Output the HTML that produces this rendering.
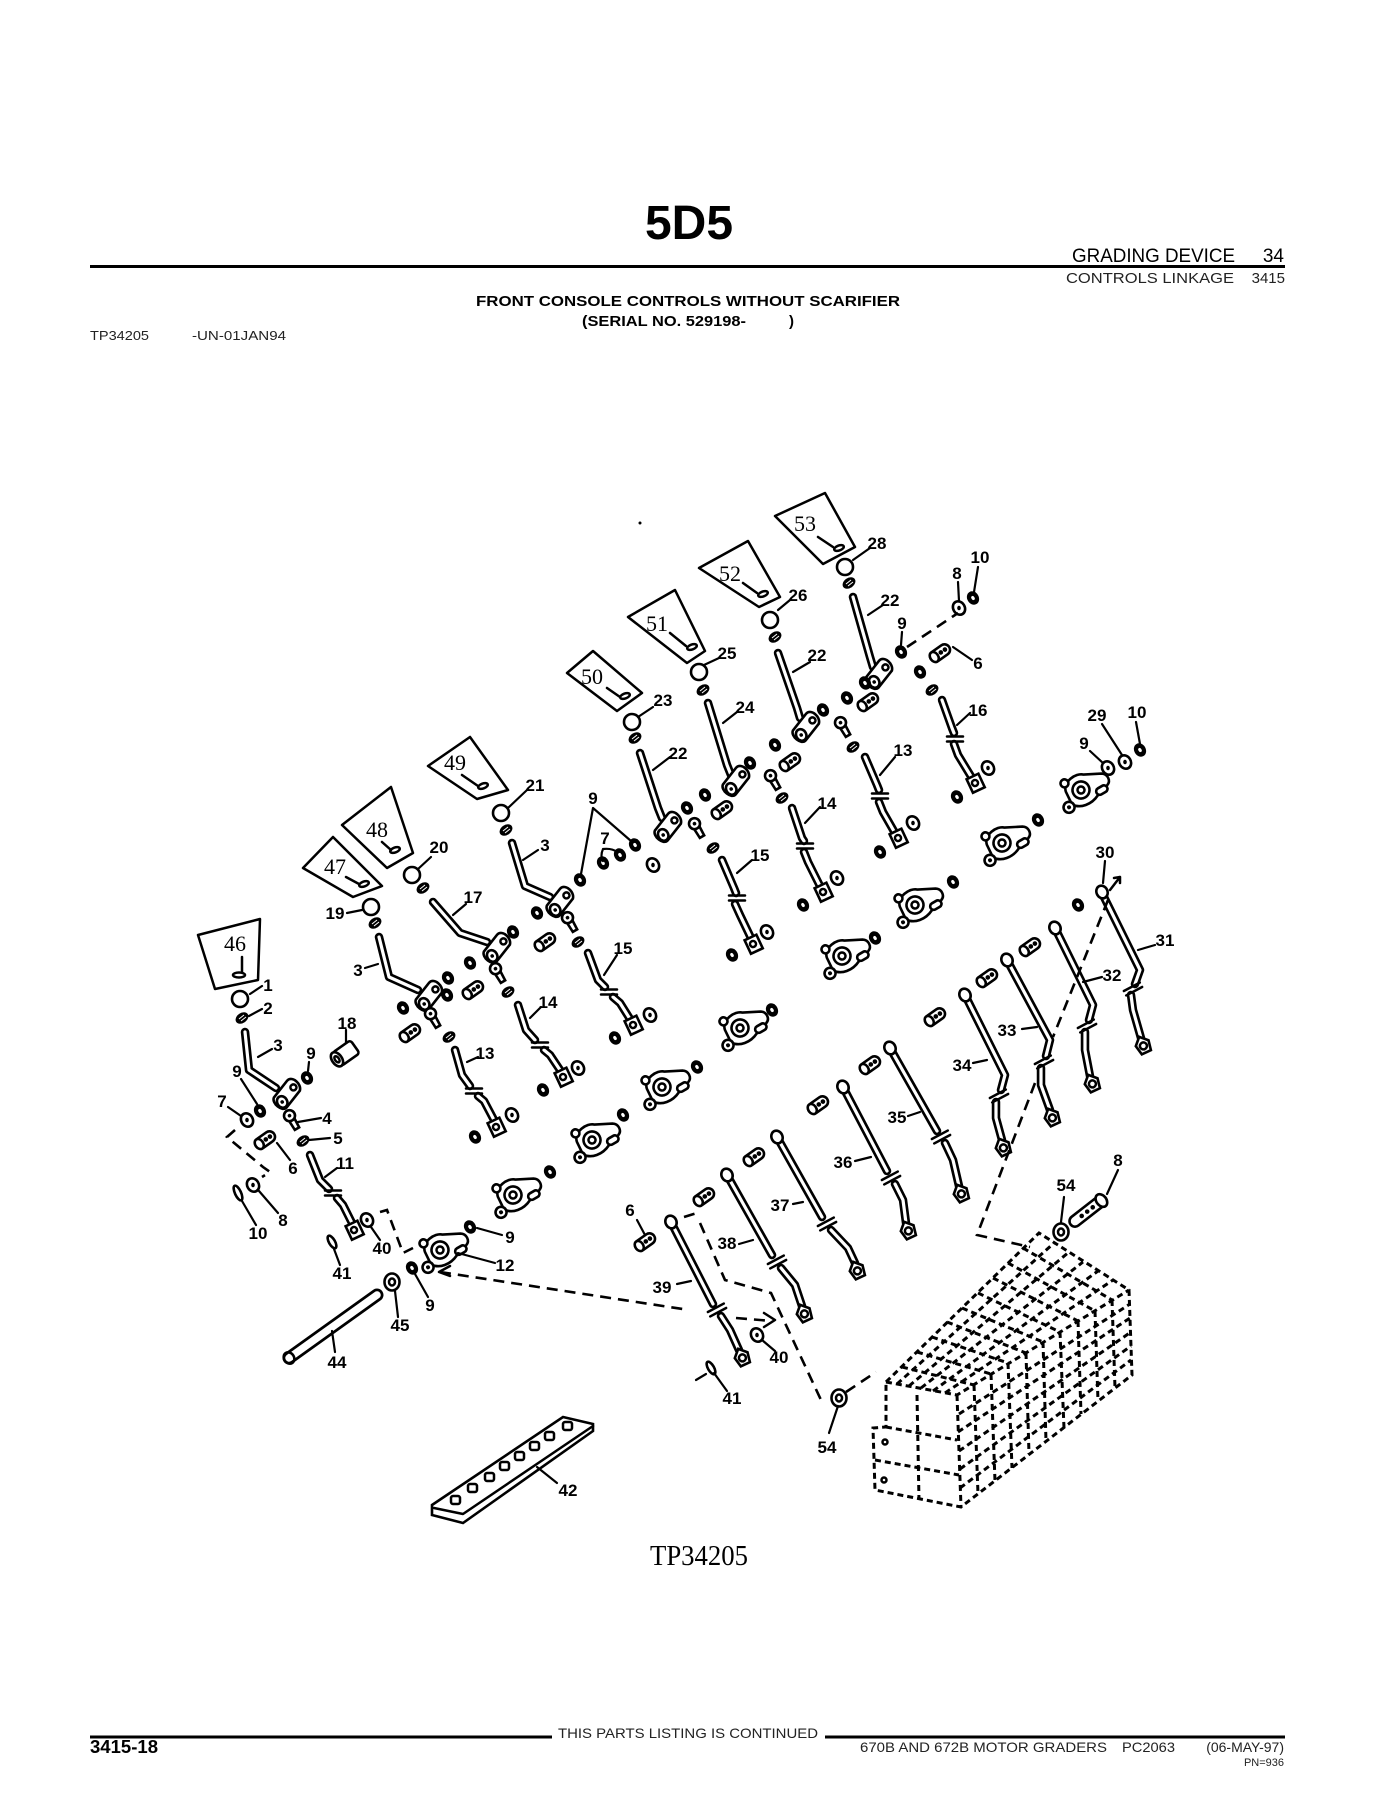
<!DOCTYPE html>
<html><head><meta charset="utf-8"><style>
html,body{margin:0;padding:0;background:#fff}
svg{display:block}
</style></head><body>
<svg width="1394" height="1804" viewBox="0 0 1394 1804" xmlns="http://www.w3.org/2000/svg">
<style>
.to{fill:none;stroke:#000;stroke-width:8.5;stroke-linecap:round;stroke-linejoin:round}
.ti{fill:none;stroke:#fff;stroke-width:3.2;stroke-linecap:round;stroke-linejoin:round}
.s{fill:none;stroke:#000;stroke-width:2.5;stroke-linecap:round;stroke-linejoin:round}
.l{fill:none;stroke:#000;stroke-width:2.2;stroke-linecap:round}
.d{fill:none;stroke:#000;stroke-width:2.6;stroke-dasharray:11 7}
.db{fill:none;stroke:#000;stroke-width:3;stroke-dasharray:6 4}
.w{fill:#fff;stroke:#000;stroke-width:2.6}
.hd{font-family:"Liberation Sans",Arial,sans-serif}
</style>
<defs>
<g id="n"><ellipse rx="5.8" ry="7" transform="rotate(-30)" fill="#000"/><ellipse rx="1.6" ry="2.2" transform="rotate(-30)" fill="#fff"/></g>
<g id="w"><ellipse rx="5.8" ry="7" transform="rotate(-30)" class="w" stroke-width="3.2"/><ellipse rx="1.8" ry="2.3" fill="#000"/></g>
<g id="sp"><ellipse rx="7" ry="5" transform="rotate(-35)" fill="#000"/><path d="M-3,1 L2,-3 M-1,3 L4,-1" stroke="#fff" stroke-width="1"/></g>
<g id="b"><g transform="rotate(-35)"><rect x="-11" y="-5.5" width="22" height="11" rx="5.5" class="w"/><ellipse cx="-7" rx="4" ry="5.5" class="w"/><circle cx="1" r="2.3"/><circle cx="6" r="2.3"/></g></g>
<g id="lk"><g transform="rotate(60)"><path d="M-2,-3 L10,-2.5 L10,2.5 L-2,3" class="w"/><circle cx="-5" r="5.5" class="w"/><circle cx="-5" r="1.8"/></g></g>
<g id="k"><circle r="8" class="w"/></g>
<g id="h"><g transform="rotate(-30)"><path d="M-14,-4 L6,-12 C13,-14 17,-2 12,3 L-8,11 C-14,13 -19,0 -14,-4Z" class="w"/><ellipse cx="-9" cy="4" rx="5" ry="6" class="w"/><circle cx="-9" cy="4" r="1.8"/><circle cx="8" cy="-3" r="3" class="s" stroke-width="2"/></g></g>
<g id="f"><g transform="rotate(-25)"><rect x="-6" y="-7" width="13" height="15" class="w"/><circle r="3" class="s" stroke-width="2"/></g></g>
<g id="tf"><g transform="rotate(-25)"><path d="M0,-9 L7,-2 L5,8 L-5,8 L-7,-2Z" class="w"/><circle cy="1" r="3.5" class="s" stroke-width="2"/></g></g>
<g id="te"><ellipse rx="5.5" ry="6.5" transform="rotate(-25)" class="w"/></g>
<g id="bkS"><path d="M-8,-2.5h16M-8,2.5h16" class="s"/></g>
<g id="bkL"><g transform="rotate(-28)"><path d="M-9,-2.5h18M-9,2.5h18" class="s"/></g></g>
<g id="r"><g transform="rotate(-30)">
<path d="M-14,-6 C-12,-16 4,-18 10,-12 L26,-4 C31,-1 31,7 25,9 L12,13 C2,18 -10,16 -15,8 Z" class="w"/>
<circle r="8.5" class="w"/><circle r="3.5" class="s" stroke-width="2"/>
<circle cx="-19" cy="9" r="5.5" class="w"/><circle cx="-19" cy="9" r="2"/>
<circle cx="-11" cy="-14" r="4" class="w"/>
<rect x="12" y="7" width="12" height="7" rx="3.5" class="w"/>
</g></g>
</defs>

<!-- HEADER -->
<text x="689" y="239" class="hd" font-size="48" font-weight="bold" text-anchor="middle">5D5</text>
<text x="1072" y="262" class="hd" font-size="19" textLength="163" lengthAdjust="spacingAndGlyphs">GRADING DEVICE</text>
<text x="1284" y="262" class="hd" font-size="19" text-anchor="end">34</text>
<line x1="90" y1="266.5" x2="1285" y2="266.5" stroke="#000" stroke-width="3"/>
<text x="1066" y="283" class="hd" font-size="15" fill="#222" textLength="168" lengthAdjust="spacingAndGlyphs">CONTROLS LINKAGE</text>
<text x="1285" y="283" class="hd" font-size="15" fill="#222" text-anchor="end">3415</text>
<text x="476" y="306" class="hd" font-size="15" font-weight="bold" textLength="424" lengthAdjust="spacingAndGlyphs">FRONT CONSOLE CONTROLS WITHOUT SCARIFIER</text>
<text x="582" y="326" class="hd" font-size="15" font-weight="bold" textLength="164" lengthAdjust="spacingAndGlyphs">(SERIAL NO. 529198-</text>
<text x="789" y="326" class="hd" font-size="15" font-weight="bold">)</text>
<text x="90" y="340" class="hd" font-size="13" fill="#222" textLength="59" lengthAdjust="spacingAndGlyphs">TP34205</text>
<text x="192" y="340" class="hd" font-size="13" fill="#222" textLength="94" lengthAdjust="spacingAndGlyphs">-UN-01JAN94</text>

<!-- FOOTER -->
<line x1="90" y1="1737" x2="552" y2="1737" stroke="#000" stroke-width="3"/>
<line x1="825" y1="1737" x2="1285" y2="1737" stroke="#000" stroke-width="3"/>
<text x="558" y="1738" class="hd" font-size="14" fill="#222" textLength="260" lengthAdjust="spacingAndGlyphs">THIS PARTS LISTING IS CONTINUED</text>
<text x="90" y="1753" class="hd" font-size="18" font-weight="bold" textLength="68" lengthAdjust="spacingAndGlyphs">3415-18</text>
<text x="860" y="1752" class="hd" font-size="14" fill="#222" textLength="247" lengthAdjust="spacingAndGlyphs">670B AND 672B MOTOR GRADERS</text>
<text x="1122" y="1752" class="hd" font-size="14" fill="#222" textLength="53" lengthAdjust="spacingAndGlyphs">PC2063</text>
<text x="1284" y="1752" class="hd" font-size="14" fill="#222" text-anchor="end">(06-MAY-97)</text>
<text x="1284" y="1766" class="hd" font-size="11" fill="#222" text-anchor="end">PN=936</text>

<!-- TP number under diagram -->
<text x="650" y="1565" font-family="Liberation Serif,serif" font-size="28" textLength="98" lengthAdjust="spacingAndGlyphs">TP34205</text>

<!-- TAGS -->
<g class="s" stroke-width="2.3">
<polygon points="198,935 260,919 258,980 215,989"/>
<polygon points="303,868 333,837 382,886 353,897"/>
<polygon points="342,825 391,787 413,853 387,868"/>
<polygon points="428,766 470,737 508,790 477,799"/>
<polygon points="567,673 593,651 642,693 617,711"/>
<polygon points="628,617 675,590 705,651 687,663"/>
<polygon points="699,568 748,541 780,597 759,607"/>
<polygon points="775,516 825,493 855,547 823,564"/>
</g>
<g class="s" stroke-width="2.5">
<path d="M242,957 L242,972"/><ellipse cx="239" cy="975" rx="6" ry="2.5"/>
<path d="M346,877 L359,884"/><ellipse cx="364" cy="884" rx="5" ry="2.5" transform="rotate(-20 364 884)"/>
<path d="M382,842 L391,850"/><ellipse cx="395" cy="850" rx="5" ry="2.5" transform="rotate(-20 395 850)"/>
<path d="M462,775 L478,786"/><ellipse cx="483" cy="786" rx="5" ry="2.5" transform="rotate(-20 483 786)"/>
<path d="M607,688 L620,697"/><ellipse cx="625" cy="696" rx="5" ry="2.5" transform="rotate(-20 625 696)"/>
<path d="M670,633 L686,646"/><ellipse cx="692" cy="647" rx="5" ry="2.5" transform="rotate(-20 692 647)"/>
<path d="M743,583 L757,593"/><ellipse cx="763" cy="594" rx="5" ry="2.5" transform="rotate(-20 763 594)"/>
<path d="M818,537 L833,547"/><ellipse cx="839" cy="548" rx="5" ry="2.5" transform="rotate(-20 839 548)"/>
</g>
<g font-family="Liberation Serif,serif" font-size="22" text-anchor="middle">
<text x="235" y="951">46</text><text x="335" y="874">47</text><text x="377" y="837">48</text><text x="455" y="770">49</text>
<text x="592" y="684">50</text><text x="657" y="631">51</text><text x="730" y="581">52</text><text x="805" y="531">53</text>
</g>
<circle cx="640" cy="523" r="1.5"/>

<!-- KNOBS & SPRINGS -->
<use href="#k" x="240" y="999"/><use href="#k" x="371" y="907"/><use href="#k" x="412" y="875"/><use href="#k" x="501" y="813"/>
<use href="#k" x="632" y="722"/><use href="#k" x="699" y="672"/><use href="#k" x="770" y="620"/><use href="#k" x="845" y="567"/>
<use href="#sp" x="242" y="1018"/><use href="#sp" x="375" y="923"/><use href="#sp" x="423" y="888"/><use href="#sp" x="506" y="830"/>
<use href="#sp" x="635" y="738"/><use href="#sp" x="703" y="690"/><use href="#sp" x="775" y="637"/><use href="#sp" x="849" y="583"/>

<!-- UPPER LEVER RODS -->
<g>
<path class="to" d="M245,1032 L249,1070 L276,1088"/><path class="ti" d="M245,1032 L249,1070 L276,1088"/>
<path class="to" d="M379,937 L389,977 L418,990"/><path class="ti" d="M379,937 L389,977 L418,990"/>
<path class="to" d="M433,902 L460,933 L487,942"/><path class="ti" d="M433,902 L460,933 L487,942"/>
<path class="to" d="M512,843 L525,886 L550,897"/><path class="ti" d="M512,843 L525,886 L550,897"/>
<path class="to" d="M640,753 L658,808 L662,818"/><path class="ti" d="M640,753 L658,808 L662,818"/>
<path class="to" d="M708,703 L727,765 L731,775"/><path class="ti" d="M708,703 L727,765 L731,775"/>
<path class="to" d="M778,653 L797,708 L800,718"/><path class="ti" d="M778,653 L797,708 L800,718"/>
<path class="to" d="M853,597 L870,657 L873,667"/><path class="ti" d="M853,597 L870,657 L873,667"/>
</g>
<use href="#h" x="288" y="1094"/><use href="#h" x="430" y="996"/><use href="#h" x="498" y="948"/><use href="#h" x="561" y="902"/>
<use href="#h" x="669" y="827"/><use href="#h" x="737" y="781"/><use href="#h" x="807" y="727"/><use href="#h" x="880" y="674"/>

<!-- SHORT LOWER RODS -->
<g>
<path class="to" d="M310,1155 L320,1180 L329,1189"/><path class="ti" d="M310,1155 L320,1180 L329,1189"/>
<path class="to" d="M337,1198 L343,1205 L353,1225"/><path class="ti" d="M337,1198 L343,1205 L353,1225"/>
<path class="to" d="M455,1050 L462,1075 L470,1086"/><path class="ti" d="M455,1050 L462,1075 L470,1086"/>
<path class="to" d="M478,1096 L484,1101 L494,1120"/><path class="ti" d="M478,1096 L484,1101 L494,1120"/>
<path class="to" d="M518,1005 L526,1030 L535,1040"/><path class="ti" d="M518,1005 L526,1030 L535,1040"/>
<path class="to" d="M544,1050 L550,1055 L560,1070"/><path class="ti" d="M544,1050 L550,1055 L560,1070"/>
<path class="to" d="M588,953 L598,980 L605,987"/><path class="ti" d="M588,953 L598,980 L605,987"/>
<path class="to" d="M613,997 L620,1003 L630,1019"/><path class="ti" d="M613,997 L620,1003 L630,1019"/>
<path class="to" d="M722,860 L734,888 L736,893"/><path class="ti" d="M722,860 L734,888 L736,893"/>
<path class="to" d="M735,904 L740,915 L751,938"/><path class="ti" d="M735,904 L740,915 L751,938"/>
<path class="to" d="M792,808 L802,838 L804,841"/><path class="ti" d="M792,808 L802,838 L804,841"/>
<path class="to" d="M804,852 L808,862 L820,886"/><path class="ti" d="M804,852 L808,862 L820,886"/>
<path class="to" d="M865,757 L877,785 L879,790"/><path class="ti" d="M865,757 L877,785 L879,790"/>
<path class="to" d="M879,802 L883,812 L895,833"/><path class="ti" d="M879,802 L883,812 L895,833"/>
<path class="to" d="M942,700 L952,728 L954,733"/><path class="ti" d="M942,700 L952,728 L954,733"/>
<path class="to" d="M954,744 L958,755 L972,778"/><path class="ti" d="M954,744 L958,755 L972,778"/>
</g>
<use href="#bkS" x="333" y="1193"/><use href="#bkS" x="474" y="1091"/><use href="#bkS" x="540" y="1045"/><use href="#bkS" x="609" y="992"/>
<use href="#bkS" x="737" y="898"/><use href="#bkS" x="805" y="846"/><use href="#bkS" x="880" y="796"/><use href="#bkS" x="955" y="739"/>
<use href="#f" x="354" y="1230"/><use href="#f" x="496" y="1127"/><use href="#f" x="563" y="1077"/><use href="#f" x="633" y="1025"/>
<use href="#f" x="753" y="944"/><use href="#f" x="823" y="892"/><use href="#f" x="898" y="838"/><use href="#f" x="975" y="783"/>

<!-- LONG RODS 31-39 -->
<g>
<path class="to" d="M1102,893 L1140,970 L1135,984"/><path class="ti" d="M1102,893 L1140,970 L1135,984"/>
<path class="to" d="M1131,995 L1133,1010 L1141,1038"/><path class="ti" d="M1131,995 L1133,1010 L1141,1038"/>
<path class="to" d="M1055,928 L1093,1005 L1089,1020"/><path class="ti" d="M1055,928 L1093,1005 L1089,1020"/>
<path class="to" d="M1085,1032 L1085,1050 L1090,1076"/><path class="ti" d="M1085,1032 L1085,1050 L1090,1076"/>
<path class="to" d="M1007,960 L1050,1040 L1046,1056"/><path class="ti" d="M1007,960 L1050,1040 L1046,1056"/>
<path class="to" d="M1041,1068 L1041,1085 L1050,1110"/><path class="ti" d="M1041,1068 L1041,1085 L1050,1110"/>
<path class="to" d="M965,995 L1005,1075 L1001,1090"/><path class="ti" d="M965,995 L1005,1075 L1001,1090"/>
<path class="to" d="M996,1102 L996,1118 L1002,1140"/><path class="ti" d="M996,1102 L996,1118 L1002,1140"/>
<path class="to" d="M890,1048 L937,1131"/><path class="ti" d="M890,1048 L937,1131"/>
<path class="to" d="M945,1143 L953,1160 L959,1186"/><path class="ti" d="M945,1143 L953,1160 L959,1186"/>
<path class="to" d="M843,1087 L887,1171"/><path class="ti" d="M843,1087 L887,1171"/>
<path class="to" d="M895,1184 L903,1200 L906,1223"/><path class="ti" d="M895,1184 L903,1200 L906,1223"/>
<path class="to" d="M777,1137 L822,1217"/><path class="ti" d="M777,1137 L822,1217"/>
<path class="to" d="M831,1230 L848,1248 L855,1263"/><path class="ti" d="M831,1230 L848,1248 L855,1263"/>
<path class="to" d="M727,1175 L772,1255"/><path class="ti" d="M727,1175 L772,1255"/>
<path class="to" d="M781,1268 L795,1285 L802,1306"/><path class="ti" d="M781,1268 L795,1285 L802,1306"/>
<path class="to" d="M671,1222 L713,1304"/><path class="ti" d="M671,1222 L713,1304"/>
<path class="to" d="M721,1316 L730,1330 L739,1350"/><path class="ti" d="M721,1316 L730,1330 L739,1350"/>
</g>
<use href="#bkL" x="1133" y="989"/><use href="#bkL" x="1087" y="1026"/><use href="#bkL" x="1044" y="1062"/><use href="#bkL" x="999" y="1096"/>
<use href="#bkL" x="941" y="1137"/><use href="#bkL" x="891" y="1178"/><use href="#bkL" x="827" y="1224"/><use href="#bkL" x="777" y="1262"/><use href="#bkL" x="717" y="1310"/>
<use href="#tf" x="1143" y="1045"/><use href="#tf" x="1092" y="1083"/><use href="#tf" x="1052" y="1117"/><use href="#tf" x="1003" y="1147"/>
<use href="#tf" x="961" y="1193"/><use href="#tf" x="908" y="1230"/><use href="#tf" x="857" y="1270"/><use href="#tf" x="804" y="1313"/><use href="#tf" x="742" y="1357"/>
<use href="#te" x="1102" y="892"/><use href="#te" x="1055" y="928"/><use href="#te" x="1007" y="960"/><use href="#te" x="965" y="995"/>
<use href="#te" x="890" y="1048"/><use href="#te" x="843" y="1087"/><use href="#te" x="777" y="1137"/><use href="#te" x="727" y="1175"/><use href="#te" x="671" y="1222"/>

<!-- BOLTS -->
<use href="#b" x="1030" y="947"/><use href="#b" x="987" y="978"/><use href="#b" x="935" y="1017"/><use href="#b" x="870" y="1065"/>
<use href="#b" x="818" y="1105"/><use href="#b" x="754" y="1157"/><use href="#b" x="704" y="1197"/><use href="#b" x="645" y="1242"/>
<use href="#b" x="410" y="1033"/><use href="#b" x="473" y="990"/><use href="#b" x="545" y="942"/>
<use href="#b" x="722" y="810"/><use href="#b" x="790" y="762"/><use href="#b" x="868" y="702"/><use href="#b" x="940" y="653"/>
<use href="#b" x="265" y="1140"/>

<!-- ROCKERS -->
<use href="#r" x="1081" y="790"/><use href="#r" x="1002" y="843"/><use href="#r" x="915" y="905"/><use href="#r" x="842" y="956"/>
<use href="#r" x="740" y="1028"/><use href="#r" x="662" y="1087"/><use href="#r" x="592" y="1140"/><use href="#r" x="513" y="1195"/><use href="#r" x="440" y="1250"/>

<!-- SMALL PARTS -->
<g>
<use href="#n" x="1038" y="820"/><use href="#n" x="953" y="882"/><use href="#n" x="875" y="938"/><use href="#n" x="772" y="1010"/>
<use href="#n" x="697" y="1067"/><use href="#n" x="623" y="1115"/><use href="#n" x="550" y="1172"/><use href="#n" x="470" y="1227"/>
<use href="#w" x="1108" y="768"/><use href="#w" x="1125" y="762"/><use href="#n" x="1140" y="750"/>
<use href="#n" x="1078" y="905"/>
<use href="#n" x="307" y="1078"/><use href="#n" x="260" y="1111"/><use href="#w" x="247" y="1120"/><use href="#lk" x="292" y="1120"/><use href="#sp" x="303" y="1141"/>
<use href="#n" x="403" y="1008"/><use href="#n" x="448" y="978"/><use href="#n" x="447" y="995"/><use href="#lk" x="433" y="1018"/><use href="#sp" x="449" y="1037"/>
<use href="#n" x="470" y="963"/><use href="#n" x="513" y="932"/><use href="#lk" x="498" y="973"/><use href="#sp" x="508" y="992"/>
<use href="#n" x="537" y="913"/><use href="#lk" x="570" y="922"/><use href="#sp" x="578" y="942"/>
<use href="#n" x="580" y="880"/><use href="#n" x="603" y="863"/><use href="#n" x="620" y="855"/><use href="#n" x="635" y="845"/><use href="#w" x="653" y="865"/>
<use href="#n" x="687" y="808"/><use href="#lk" x="697" y="828"/><use href="#n" x="705" y="795"/><use href="#sp" x="713" y="848"/>
<use href="#n" x="750" y="763"/><use href="#n" x="775" y="745"/><use href="#lk" x="773" y="780"/><use href="#sp" x="782" y="798"/>
<use href="#n" x="823" y="710"/><use href="#n" x="847" y="698"/><use href="#lk" x="843" y="727"/><use href="#sp" x="853" y="747"/><use href="#n" x="865" y="683"/>
<use href="#n" x="901" y="652"/><use href="#n" x="920" y="672"/><use href="#sp" x="932" y="690"/>
<use href="#w" x="959" y="608"/><use href="#n" x="973" y="598"/>
<use href="#n" x="475" y="1137"/><use href="#w" x="512" y="1115"/><use href="#n" x="543" y="1090"/><use href="#w" x="578" y="1068"/><use href="#n" x="615" y="1038"/><use href="#w" x="650" y="1015"/>
<use href="#n" x="732" y="955"/><use href="#w" x="767" y="932"/><use href="#n" x="803" y="905"/><use href="#w" x="837" y="878"/>
<use href="#n" x="880" y="852"/><use href="#w" x="913" y="823"/><use href="#n" x="957" y="797"/><use href="#w" x="988" y="768"/>
<use href="#w" x="253" y="1185"/><use href="#w" x="367" y="1220"/><use href="#w" x="757" y="1335"/>
<use href="#n" x="412" y="1268"/>
</g>
<!-- elongated pins 10 / 41 -->
<ellipse cx="238" cy="1193" rx="3" ry="8" transform="rotate(-25 238 1193)" class="w" stroke-width="2.5"/>
<ellipse cx="332" cy="1242" rx="3" ry="7" transform="rotate(-30 332 1242)" class="w" stroke-width="2.5"/>
<ellipse cx="711" cy="1368" rx="3" ry="7" transform="rotate(-30 711 1368)" class="w" stroke-width="2.5"/>
<!-- washers 45, 54 -->
<g class="w" stroke-width="3.2"><ellipse cx="392" cy="1282" rx="7.5" ry="8.5"/><ellipse cx="839" cy="1398" rx="7.5" ry="8.5"/><ellipse cx="1061" cy="1232" rx="7.5" ry="8.5"/></g>
<g class="s" stroke-width="2"><ellipse cx="392" cy="1282" rx="3" ry="3.5"/><ellipse cx="839" cy="1398" rx="3" ry="3.5"/><ellipse cx="1061" cy="1232" rx="3" ry="3.5"/></g>
<!-- bolt 8 lower right -->
<g transform="translate(1088,1211) rotate(-38)"><rect x="-22" y="-5.5" width="44" height="11" rx="5.5" class="w"/><ellipse cx="17" rx="5" ry="7" class="w"/><circle cx="-8" r="2.3"/><circle cx="-1" r="2.3"/><circle cx="6" r="2.3"/></g>
<!-- part 18 bushing -->
<g transform="translate(346,1053) rotate(-35)"><rect x="-11" y="-8" width="22" height="16" rx="3" class="w"/><ellipse cx="-11" rx="5" ry="8" class="w"/><ellipse cx="-11" rx="2" ry="3.5" class="s" stroke-width="2"/></g>
<!-- shaft 44 -->
<path d="M289,1358 L377,1295" fill="none" stroke="#000" stroke-width="13" stroke-linecap="round"/>
<path d="M289,1358 L377,1295" fill="none" stroke="#fff" stroke-width="7.5" stroke-linecap="round"/>
<ellipse cx="289" cy="1358" rx="5" ry="6" transform="rotate(-35 289 1358)" class="s" stroke-width="2"/>
<!-- bar 42 -->
<path d="M432,1505 L563,1417 L593,1424 L593,1431 L463,1523 L432,1515 Z" class="w" stroke-width="3.2"/>
<path d="M434,1508 L463,1514 L593,1426" class="s" stroke-width="2"/>
<g class="s" stroke-width="2.6">
<rect x="451" y="1496" width="9" height="8" rx="2"/><rect x="468" y="1484" width="9" height="8" rx="2"/><rect x="485" y="1473" width="9" height="8" rx="2"/>
<rect x="500" y="1462" width="9" height="8" rx="2"/><rect x="515" y="1452" width="9" height="8" rx="2"/><rect x="530" y="1442" width="9" height="8" rx="2"/>
<rect x="545" y="1432" width="9" height="8" rx="2"/><rect x="563" y="1422" width="9" height="8" rx="2"/>
</g>

<!-- VALVE BLOCK -->
<g class="db" stroke-width="3.2">
<path d="M886,1382 L1039,1233 L1129,1290 L1132,1375 L961,1507 L875,1490 L873,1428 L886,1427 Z"/>
<path d="M886,1382 L957,1395 L1129,1290 M957,1395 L961,1507"/>
</g>
<g class="db">
<path d="M917,1352 L991,1374 M947,1322 L1026,1353 M978,1293 L1060,1332 M1008,1263 L1095,1311"/>
<path d="M902,1367 L974,1385 M932,1337 L1008,1363 M962,1308 L1043,1342 M993,1278 L1078,1321 M1023,1248 L1112,1300"/>
<path d="M909,1386 L1069,1252 M933,1391 L1098,1271 M921,1388 L1083,1262 M945,1393 L1113,1280 M897,1384 L1054,1243"/>
<path d="M991,1374 L995,1481 M1026,1353 L1029,1454 M1060,1332 L1064,1428 M1095,1311 L1098,1401"/>
<path d="M974,1385 L978,1494 M1008,1363 L1012,1468 M1043,1342 L1046,1441 M1078,1321 L1081,1414 M1112,1300 L1115,1388"/>
<path d="M958,1432 L1130,1318 M960,1469 L1131,1346 M959,1414 L1130,1304 M959,1451 L1131,1332 M960,1488 L1131,1360"/>
<path d="M917,1395 L919,1500 M886,1427 L957,1440 M875,1460 L959,1475"/>
</g>
<circle cx="885" cy="1442" r="2.5" class="s" stroke-width="1.5"/><circle cx="884" cy="1480" r="2.5" class="s" stroke-width="1.5"/>

<!-- DASHED GUIDE LINES -->
<g class="d">
<path d="M907,647 L958,613"/>
<path d="M235,1130 L227,1137 L263,1167 L270,1172 L262,1177"/>
<path d="M380,1212 L387,1210 L403,1253 L413,1248"/>
<path d="M440,1272 L689,1310"/>
<path d="M684,1217 L700,1212"/>
<path d="M700,1223 L725,1280 L771,1293 L821,1400"/>
<path d="M846,1392 L876,1372"/>
<path d="M1108,900 L1053,1037"/>
<path d="M1035,1083 L977,1235 L1030,1247"/>
<path d="M736,1318 L772,1321"/>
</g>
<path d="M450,1266 L439,1272 L450,1276" class="s" stroke-width="2"/>
<path d="M764,1313 L775,1320 L764,1327" class="s" stroke-width="2"/>
<path d="M1110,890 L1120,877 M1114,878 L1120,877 L1120,883" class="s" stroke-width="2"/>

<!-- LEADER LINES -->
<g class="l">
<path d="M250,994 L262,986"/><path d="M249,1016 L262,1009"/><path d="M258,1057 L272,1049"/>
<path d="M309,1062 L308,1071"/><path d="M241,1079 L257,1104"/><path d="M228,1107 L241,1116"/>
<path d="M298,1122 L321,1118"/><path d="M309,1140 L330,1138"/><path d="M277,1143 L290,1160"/>
<path d="M259,1191 L278,1213"/><path d="M242,1201 L256,1225"/><path d="M325,1177 L337,1168"/>
<path d="M334,1249 L340,1265"/><path d="M371,1227 L380,1240"/><path d="M458,1253 L495,1263"/>
<path d="M477,1228 L502,1235"/><path d="M415,1274 L428,1297"/><path d="M395,1291 L398,1317"/>
<path d="M332,1331 L335,1352"/><path d="M537,1467 L557,1483"/><path d="M346,1030 L346,1043"/>
<path d="M347,913 L362,910"/><path d="M418,869 L431,857"/><path d="M365,968 L378,964"/>
<path d="M453,915 L466,904"/><path d="M508,808 L527,790"/><path d="M523,860 L538,850"/>
<path d="M593,808 L581,874 M593,808 L631,841"/><path d="M603,849 Q600,856 603,861 M603,849 Q612,848 617,852"/>
<path d="M467,1062 L478,1057"/><path d="M530,1018 L541,1007"/><path d="M604,975 L617,955"/>
<path d="M638,717 L653,707"/><path d="M653,770 L670,757"/><path d="M704,665 L719,658"/>
<path d="M723,723 L737,712"/><path d="M778,610 L790,600"/><path d="M793,672 L810,662"/>
<path d="M853,560 L870,548"/><path d="M868,615 L883,605"/><path d="M902,632 L901,645"/>
<path d="M958,582 L959,601"/><path d="M978,567 L974,592"/><path d="M953,647 L972,660"/>
<path d="M957,725 L970,713"/><path d="M880,775 L895,757"/><path d="M805,823 L820,807"/>
<path d="M737,873 L752,860"/><path d="M1102,724 L1122,755"/><path d="M1090,751 L1103,763"/>
<path d="M1136,722 L1140,744"/><path d="M1105,861 L1103,883"/><path d="M1138,950 L1155,945"/>
<path d="M1083,982 L1102,977"/><path d="M1022,1029 L1037,1027"/><path d="M973,1063 L987,1060"/>
<path d="M908,1116 L920,1112"/><path d="M855,1161 L871,1157"/><path d="M793,1204 L803,1202"/>
<path d="M739,1244 L753,1240"/><path d="M677,1284 L691,1281"/><path d="M637,1220 L645,1235"/>
<path d="M762,1340 L775,1351"/><path d="M714,1373 L727,1391"/><path d="M696,1380 L706,1374"/>
<path d="M838,1406 L829,1433"/><path d="M1064,1197 L1061,1222"/><path d="M1118,1170 L1107,1194"/>
</g>

<!-- CALLOUT NUMBERS -->
<g font-family="Liberation Sans,Arial,sans-serif" font-weight="bold" font-size="17" text-anchor="middle">
<text x="268" y="991">1</text><text x="268" y="1014">2</text><text x="278" y="1051">3</text>
<text x="311" y="1059">9</text><text x="237" y="1077">9</text><text x="222" y="1107">7</text>
<text x="327" y="1124">4</text><text x="338" y="1144">5</text><text x="293" y="1174">6</text>
<text x="283" y="1226">8</text><text x="258" y="1239">10</text><text x="345" y="1169">11</text>
<text x="342" y="1279">41</text><text x="382" y="1254">40</text><text x="505" y="1271">12</text>
<text x="510" y="1243">9</text><text x="430" y="1311">9</text><text x="400" y="1331">45</text>
<text x="337" y="1368">44</text><text x="568" y="1496">42</text><text x="347" y="1029">18</text>
<text x="335" y="919">19</text><text x="439" y="853">20</text><text x="358" y="976">3</text>
<text x="473" y="903">17</text><text x="535" y="791">21</text><text x="545" y="851">3</text>
<text x="593" y="804">9</text><text x="605" y="844">7</text><text x="485" y="1059">13</text>
<text x="548" y="1008">14</text><text x="623" y="954">15</text><text x="663" y="706">23</text>
<text x="678" y="759">22</text><text x="727" y="659">25</text><text x="745" y="713">24</text>
<text x="798" y="601">26</text><text x="817" y="661">22</text><text x="877" y="549">28</text>
<text x="890" y="606">22</text><text x="902" y="629">9</text><text x="957" y="579">8</text>
<text x="980" y="563">10</text><text x="978" y="669">6</text><text x="978" y="716">16</text>
<text x="903" y="756">13</text><text x="827" y="809">14</text><text x="760" y="861">15</text>
<text x="1097" y="721">29</text><text x="1084" y="749">9</text><text x="1137" y="718">10</text>
<text x="1105" y="858">30</text><text x="1165" y="946">31</text><text x="1112" y="981">32</text>
<text x="1007" y="1036">33</text><text x="962" y="1071">34</text><text x="897" y="1123">35</text>
<text x="843" y="1168">36</text><text x="780" y="1211">37</text><text x="727" y="1249">38</text>
<text x="662" y="1293">39</text><text x="630" y="1216">6</text><text x="779" y="1363">40</text>
<text x="732" y="1404">41</text><text x="827" y="1453">54</text><text x="1066" y="1191">54</text>
<text x="1118" y="1166">8</text>
</g>
</svg>
</body></html>
